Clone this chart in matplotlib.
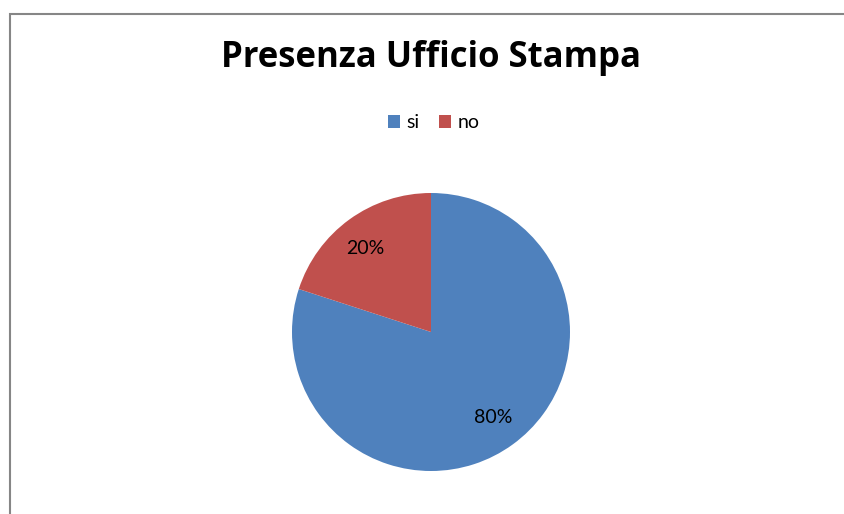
import matplotlib
matplotlib.use("Agg")
import matplotlib.pyplot as plt
from matplotlib.patches import Rectangle

title = "Presenza Ufficio Stampa"
labels = ["si", "no"]
values = [80, 20]
colors = ["#4F81BD", "#C0504D"]

plt.rcParams["font.family"] = ["Lato", "DejaVu Sans"]

W, H = 845, 514
fig = plt.figure(figsize=(W / 100, H / 100), dpi=100)
fig.patch.set_facecolor("white")

cx, cy, r = 431, 332, 139
ax = fig.add_axes([(cx - r) / W, (H - cy - r) / H, 2 * r / W, 2 * r / H])
wedges, texts, autotexts = ax.pie(
    values, colors=colors, startangle=90, counterclock=False,
    autopct="%1.0f%%", pctdistance=0.76, radius=1.0,
    textprops=dict(fontsize=14, color="black"),
    wedgeprops=dict(linewidth=0))
ax.set_xlim(-1, 1)
ax.set_ylim(-1, 1)
ax.set_aspect("equal")
ax.axis("off")
autotexts[1].set_position((-0.47, 0.60))

fig.text(431 / W, 1 - 67 / H, title, ha="center", va="baseline",
         fontsize=25, fontweight="bold", color="black",
         family=["Open Sans", "DejaVu Sans"])

fig.legend(wedges, labels, loc="center", bbox_to_anchor=(434 / W, 1 - 123 / H),
           ncol=2, frameon=False, fontsize=14, handlelength=0.6, handleheight=0.6,
           handletextpad=0.35, columnspacing=1.0)

border = Rectangle((10 / W, -0.1), 1.2, 1 - 14 / H + 0.1, transform=fig.transFigure,
                   fill=False, edgecolor="#868686", linewidth=1.5, clip_on=False)
fig.add_artist(border)

fig.savefig("out.png", dpi=100)
